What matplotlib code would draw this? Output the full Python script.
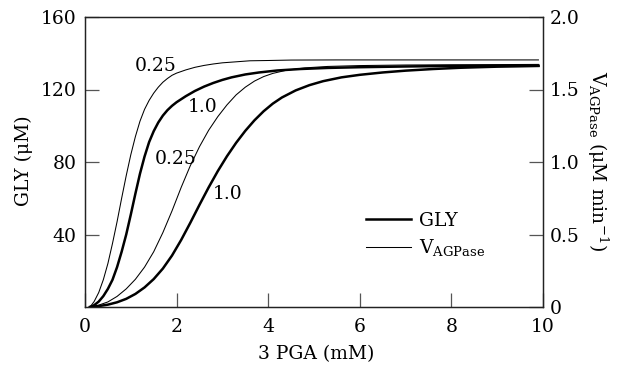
import matplotlib
matplotlib.use("Agg")
import matplotlib.pyplot as plt

plt.rcParams['font.family'] = ['DejaVu Serif']
plt.rcParams['mathtext.fontset'] = 'dejavuserif'
plt.rcParams['font.size'] = 13.5

# GLY (uM), thick lines, left axis
gly_x_025 = [0.11, 0.2, 0.3, 0.4, 0.5, 0.6, 0.7, 0.8, 0.9, 1.0, 1.1, 1.2, 1.3, 1.4, 1.5, 1.6, 1.7, 1.8,
             1.9, 2.0, 2.2, 2.4, 2.6, 2.8, 3.0, 3.2, 3.5, 3.8, 4.2, 4.7, 5.3, 6.0, 7.0, 8.0, 9.9]
gly_y_025 = [0, 1, 3, 6, 10, 15, 22, 30.5, 40, 51, 62.5, 73.5, 83, 91, 97, 101.8, 105.6, 108.6,
             111, 113, 116.3, 119.2, 121.6, 123.6, 125.3, 126.7, 128.3, 129.4, 130.5, 131.3, 131.9, 132.3, 132.7, 133, 133.1]

gly_x_10 = [0.11, 0.3, 0.5, 0.7, 0.9, 1.1, 1.3, 1.5, 1.7, 1.9, 2.1, 2.3, 2.5, 2.7, 2.9, 3.1, 3.3, 3.5,
            3.7, 3.9, 4.1, 4.3, 4.6, 4.9, 5.2, 5.6, 6.0, 6.5, 7.0, 7.6, 8.2, 9.0, 9.9]
gly_y_10 = [0, 0.5, 1.3, 2.6, 4.5, 7.2, 10.8, 15.4, 21.2, 28.4, 37, 46.5, 56.4, 66, 75, 83.2, 90.6, 97.2,
            103, 108, 112.2, 115.6, 119.5, 122.4, 124.6, 126.7, 128.1, 129.4, 130.4, 131.3, 132, 132.6, 133]

# V_AGPase (uM/min), thin lines, right axis
v_x_025 = [0.11, 0.2, 0.3, 0.4, 0.5, 0.6, 0.7, 0.8, 0.9, 1.0, 1.1, 1.2, 1.3, 1.4, 1.5, 1.6, 1.7, 1.8,
           1.9, 2.0, 2.2, 2.4, 2.6, 2.8, 3.0, 3.3, 3.6, 4.0, 4.5, 5.5, 9.9]
v_y_025 = [0, 0.038, 0.1, 0.188, 0.3, 0.438, 0.588, 0.75, 0.906, 1.05, 1.175, 1.281, 1.363, 1.425, 1.475,
           1.516, 1.55, 1.576, 1.598, 1.613, 1.635, 1.653, 1.666, 1.676, 1.684, 1.691, 1.698, 1.70, 1.703,
           1.704, 1.704]

v_x_10 = [0.11, 0.3, 0.5, 0.7, 0.9, 1.1, 1.3, 1.5, 1.7, 1.9, 2.1, 2.3, 2.5, 2.7, 2.9, 3.1, 3.3, 3.5,
          3.7, 3.9, 4.1, 4.4, 4.8, 5.3, 6.0, 7.0, 8.5, 9.9]
v_y_10 = [0, 0.013, 0.035, 0.073, 0.125, 0.191, 0.275, 0.381, 0.513, 0.663, 0.825, 0.975, 1.106, 1.219,
          1.313, 1.394, 1.463, 1.516, 1.558, 1.589, 1.611, 1.633, 1.649, 1.659, 1.665, 1.669, 1.671, 1.673]

x_ticks = [0, 2, 4, 6, 8, 10]
gly_ticks = [40, 80, 120, 160]
v_ticks = [0, 0.5, 1.0, 1.5, 2.0]
v_tick_labels = ["0", "0.5", "1.0", "1.5", "2.0"]

fig = plt.figure(figsize=(6.22, 3.67), dpi=100)
ax = fig.add_axes([85 / 622, 60 / 367, 458 / 622, 290 / 367])
ax2 = ax.twinx()

thick = 1.8
thin = 0.75
ax.plot(gly_x_025, gly_y_025, color="black", lw=thick)
ax.plot(gly_x_10, gly_y_10, color="black", lw=thick)
ax2.plot(v_x_025, v_y_025, color="black", lw=thin)
ax2.plot(v_x_10, v_y_10, color="black", lw=thin)

ax.set_xlim(0, 10)
ax.set_ylim(0, 160)
ax2.set_ylim(0, 2.0)

ax.set_xticks(x_ticks)
ax.set_yticks(gly_ticks)
ax2.set_yticks(v_ticks)
ax2.set_yticklabels(v_tick_labels)

for a in (ax, ax2):
    for s in a.spines.values():
        s.set_color("#222222")
        s.set_linewidth(0.9)

ax.tick_params(axis="x", direction="in", length=10, width=0.9, color="#555555", pad=8, top=False)
ax.tick_params(axis="y", direction="in", length=10, width=0.9, color="#555555", pad=6, right=False)
ax2.tick_params(axis="y", direction="in", length=10, width=0.9, color="#555555", pad=5)

# curve labels
ax.text(1.55, 132.7, "0.25", ha="center", va="center")
ax.text(2.57, 110.6, "1.0", ha="center", va="center")
ax.text(1.97, 81.4, "0.25", ha="center", va="center")
ax.text(3.11, 62.6, "1.0", ha="center", va="center")

# legend
h1, = ax2.plot([], [], color="black", lw=thick)
h2, = ax2.plot([], [], color="black", lw=thin)
ax2.legend([h1, h2], ["GLY", r"V$_\mathregular{AGPase}$"], loc="upper left",
           bbox_to_anchor=(0.6135, 0.328), frameon=False, borderpad=0,
           borderaxespad=0, handlelength=2.4, handletextpad=0.45, labelspacing=0.4)

fig.text(24 / 622, 1 - 161 / 367, "GLY (μM)", rotation=90, ha="center", va="center")
fig.text(316 / 622, 1 - 354 / 367, "3 PGA (mM)", ha="center", va="center")
fig.text(598 / 622, 1 - 161 / 367, r"V$_\mathregular{AGPase}$ (μM min$^{-1}$)",
         rotation=270, ha="center", va="center")

fig.savefig("out.png", dpi=100)
